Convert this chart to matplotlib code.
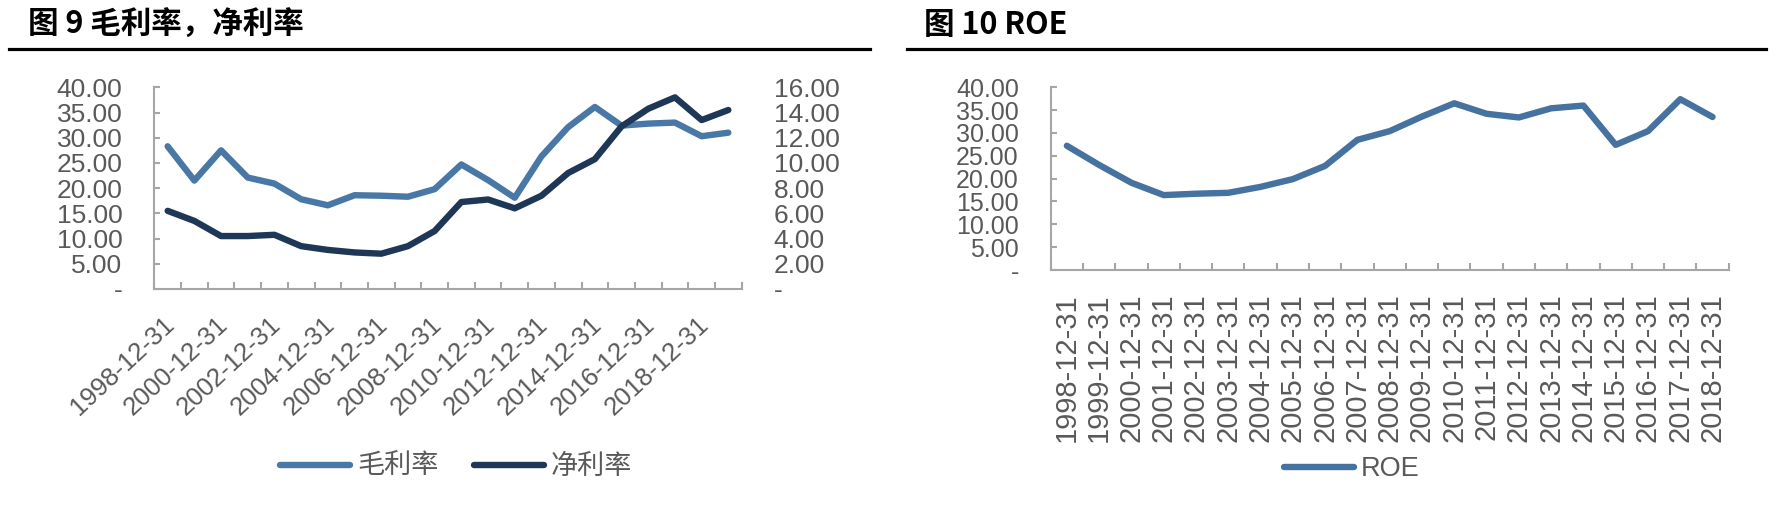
import matplotlib
matplotlib.use("Agg")
import matplotlib.pyplot as plt
from matplotlib import font_manager as fm
from matplotlib.lines import Line2D
from matplotlib.ticker import FuncFormatter
from matplotlib.transforms import ScaledTranslation

names = {f.name for f in fm.fontManager.ttflist}
narrow = 'Liberation Sans Narrow' if 'Liberation Sans Narrow' in names else 'Liberation Sans'
plt.rcParams['font.family'] = [narrow, 'Noto Sans CJK SC', 'DejaVu Sans']

# data
dates_left = ['1998-12-31', '1999-12-31', '2000-12-31', '2001-12-31', '2002-12-31',
              '2003-12-31', '2004-12-31', '2005-12-31', '2006-12-31', '2007-12-31',
              '2008-12-31', '2009-12-31', '2010-12-31', '2011-12-31', '2012-12-31',
              '2013-12-31', '2014-12-31', '2015-12-31', '2016-12-31', '2017-12-31',
              '2018-12-31', '2019-12-31']
gross = [28.3, 21.5, 27.5, 22.1, 20.9, 17.8, 16.6, 18.6, 18.5, 18.3, 19.8,
         24.7, 21.6, 18.1, 26.3, 32.1, 36.1, 32.4, 32.8, 33.0, 30.3, 31.0]
net = [6.2, 5.4, 4.2, 4.2, 4.3, 3.4, 3.1, 2.9, 2.8, 3.4, 4.6,
       6.9, 7.1, 6.4, 7.4, 9.2, 10.3, 12.9, 14.3, 15.2, 13.4, 14.2]

dates_right = dates_left[:21]
roe = [27.2, 23.0, 19.1, 16.4, 16.7, 16.9, 18.2, 19.9, 22.8, 28.5, 30.4,
       33.6, 36.5, 34.2, 33.4, 35.4, 36.0, 27.4, 30.4, 37.4, 33.5]

c_gross = '#4A78A6'
c_net = '#1E3756'
c_roe = '#4672A0'
grey = '#A6A6A6'
txt = '#595959'
W, H = 1776, 514


def fmt(v, pos):
    return '-' if abs(v) < 1e-9 else '%.2f' % v


def style(ax, n, ymax, step):
    ax.set_xlim(0, n)
    ax.set_ylim(0, ymax)
    ax.set_yticks([i * step for i in range(int(round(ymax / step)) + 1)])
    ax.yaxis.set_major_formatter(FuncFormatter(fmt))
    for s in ('top', 'right'):
        ax.spines[s].set_visible(False)
    for s in ('left', 'bottom'):
        ax.spines[s].set_color(grey)
        ax.spines[s].set_linewidth(1.5)
    ax.set_xticks(range(n + 1), minor=True)
    ax.tick_params(axis='x', which='minor', direction='in', length=5, width=1.5, color=grey)
    ax.tick_params(axis='y', direction='in', length=4.5, width=1.5, color=grey,
                   labelcolor=txt, labelsize=19, pad=23)


fig = plt.figure(figsize=(W / 100, H / 100), dpi=100)

# left chart
ax = fig.add_axes([154.3 / W, 1 - 289 / H, (741.7 - 154.3) / W, (289 - 87.3) / H])
style(ax, len(dates_left), 40, 5)
xs = [i + 0.5 for i in range(len(dates_left))]
l1, = ax.plot(xs, gross, color=c_gross, lw=4.6, solid_capstyle='round', solid_joinstyle='round')
ax.set_xticks(xs[::2])
ax.set_xticklabels(dates_left[::2], rotation=43, ha='right', va='top',
                   rotation_mode='anchor', family=['Liberation Sans'])
ax.tick_params(axis='x', which='major', length=0, labelsize=18.5, labelcolor=txt, pad=17)
shift = ScaledTranslation(-5 / 100, 0, fig.dpi_scale_trans)
for lab in ax.get_xticklabels():
    lab.set_transform(lab.get_transform() + shift)

ax2 = ax.twinx()
ax2.set_ylim(0, 16)
ax2.set_yticks([i * 2 for i in range(9)])
ax2.yaxis.set_major_formatter(FuncFormatter(fmt))
for s in ax2.spines.values():
    s.set_visible(False)
ax2.tick_params(axis='y', length=0, labelcolor=txt, labelsize=19, pad=23)
l2, = ax2.plot(xs, net, color=c_net, lw=4.6, solid_capstyle='round', solid_joinstyle='round')

fig.legend([l1, l2], ['毛利率', '净利率'], loc='center', bbox_to_anchor=(456 / W, 1 - 467 / H),
           ncol=2, frameon=False, fontsize=19.5, handlelength=2.6, handletextpad=0.25,
           columnspacing=1.3, borderpad=0, labelcolor=txt)

# right chart
bx = fig.add_axes([1050.7 / W, 1 - 270 / H, (1728.7 - 1050.7) / W, (270 - 87.3) / H])
style(bx, len(dates_right), 40, 5)
xr = [i + 0.5 for i in range(len(dates_right))]
l3, = bx.plot(xr, roe, color=c_roe, lw=4.6, solid_capstyle='round', solid_joinstyle='round')
bx.set_xticks(xr)
bx.set_xticklabels(dates_right, rotation=90, ha='center', va='top', family=['Liberation Sans'])
bx.tick_params(axis='x', which='major', length=0, labelsize=21, labelcolor=txt, pad=17)
bx.tick_params(axis='y', labelsize=18)

fig.legend([l3], ['ROE'], loc='center', bbox_to_anchor=(1352 / W, 1 - 469 / H),
           frameon=False, fontsize=19.5, handlelength=2.6, handletextpad=0.25,
           borderpad=0, labelcolor=txt)

# titles and rules
fig.text(28 / W, 1 - 25 / H, '图 9 毛利率，净利率', fontsize=22, fontweight='bold',
         va='center', ha='left', family=['Noto Sans CJK SC'])
fig.text(924 / W, 1 - 25 / H, '图 10 ROE', fontsize=22, fontweight='bold',
         va='center', ha='left', family=['Noto Sans CJK SC'])
for x0, x1 in ((9, 870), (907, 1766)):
    fig.add_artist(Line2D([x0 / W, x1 / W], [1 - 49 / H, 1 - 49 / H],
                          color='black', lw=2.3, transform=fig.transFigure))

fig.savefig('out.png', dpi=100)
